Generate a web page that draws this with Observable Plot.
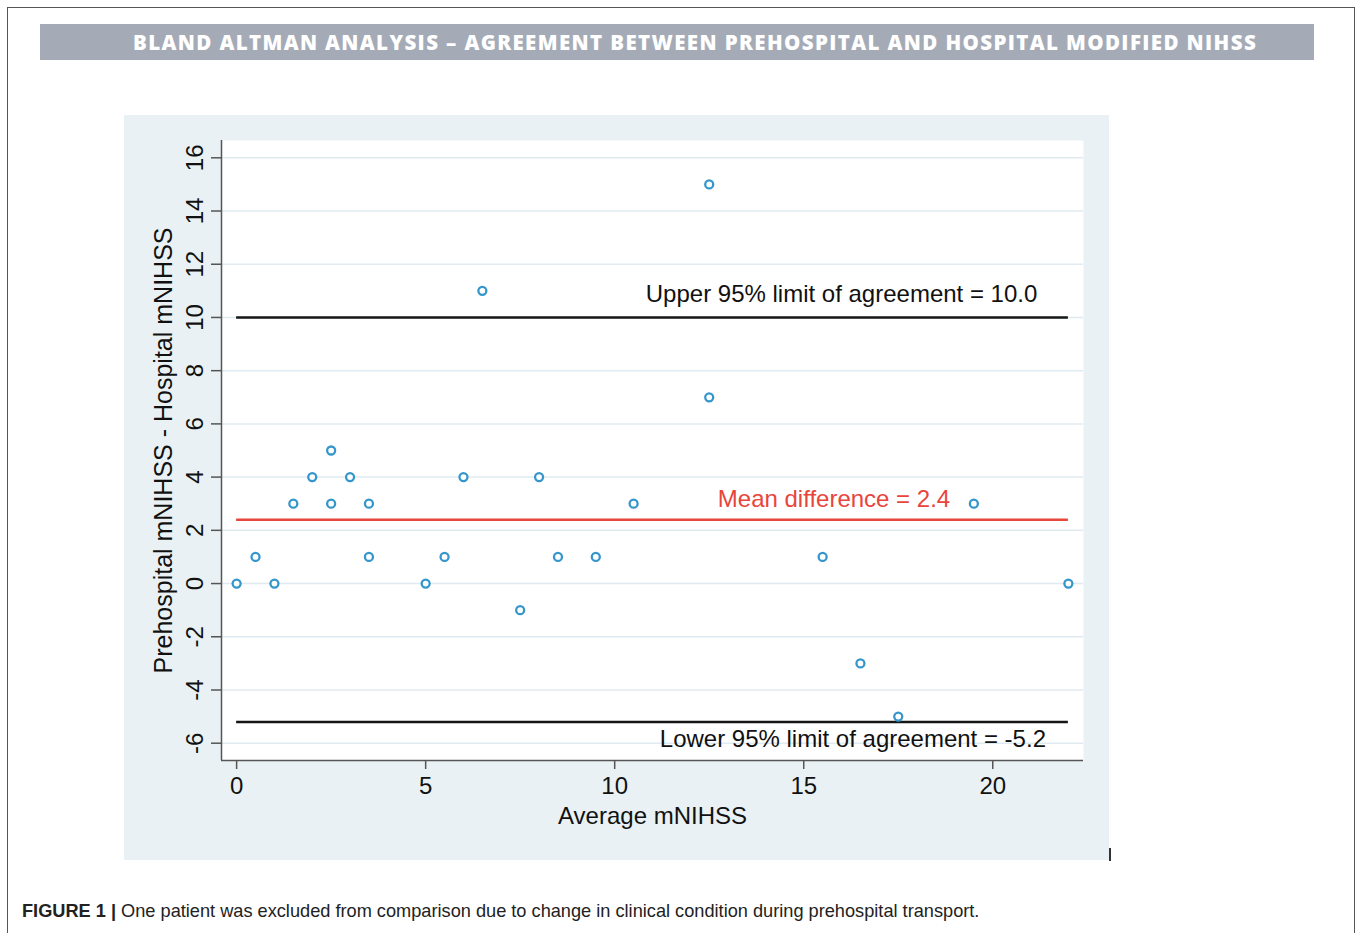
<!DOCTYPE html>
<html>
<head>
<meta charset="utf-8">
<script src="https://cdn.jsdelivr.net/npm/d3@7"></script>
<script src="https://cdn.jsdelivr.net/npm/@observablehq/plot@0.6"></script>
<style>
  html, body { margin: 0; padding: 0; background: #fff; }
  body { width: 1357px; height: 933px; position: relative; overflow: hidden; font-family: "Liberation Sans", Arial, sans-serif; }
  #border { position: absolute; left: 7px; top: 7px; width: 1348px; height: 1000px; border: 1px solid #555; box-sizing: border-box; }
  #banner { position: absolute; left: 40px; top: 24px; width: 1274px; height: 36px; background: #a4abb7; }
  #banner span { position: absolute; left: 93px; top: 0; line-height: 37px; color: #fff; font-family: "Open Sans", sans-serif; font-weight: 800; font-size: 20.5px; letter-spacing: 1.38px; white-space: nowrap; }
  #chart { position: absolute; left: 124px; top: 115px; }
  #caption { position: absolute; left: 22px; top: 901px; font-size: 18.2px; color: #222; white-space: nowrap; font-family: "Liberation Sans", Arial, sans-serif; }
  #caption b { font-weight: 700; }
  #tick { position: absolute; left: 1109px; top: 848px; width: 2px; height: 13px; background: #333; }
</style>
</head>
<body>
<div id="border"></div>
<div id="banner"><span>BLAND ALTMAN ANALYSIS – AGREEMENT BETWEEN PREHOSPITAL AND HOSPITAL MODIFIED NIHSS</span></div>
<div id="chart"></div>
<div id="tick"></div>
<div id="caption"><b>FIGURE 1 |</b> One patient was excluded from comparison due to change in clinical condition during prehospital transport.</div>
<script>
// Data
const averageScore = [0, 0.5, 1, 1.5, 2, 2.5, 2.5, 3, 3.5, 3.5, 5, 5.5, 6, 6.5, 7.5, 8, 8.5, 9.5, 10.5, 12.5, 12.5, 15.5, 16.5, 17.5, 19.5, 22];
const difference   = [0, 1, 0, 3, 4, 5, 3, 4, 3, 1, 0, 1, 4, 11, -1, 4, 1, 1, 3, 15, 7, 1, -3, -5, 3, 0];
const meanDiff = 2.4;
const upperLoA = 10.0;
const lowerLoA = -5.2;
const xTicks = [0, 5, 10, 15, 20];
const yTicks = [-6, -4, -2, 0, 2, 4, 6, 8, 10, 12, 14, 16];
const xDomain = [-0.4, 22.4];
const yDomain = [-6.65, 16.65];
const lineRange = [0, 22];

const points = averageScore.map((x, i) => ({x, y: difference[i]}));
const fmt = d => String(d);

const chart = Plot.plot({
  width: 985,
  height: 745,
  marginLeft: 97,
  marginRight: 26,
  marginTop: 25,
  marginBottom: 100,
  style: {background: "#e9f1f4", fontFamily: "'Liberation Sans', Arial, sans-serif", color: "#111"},
  x: {domain: xDomain},
  y: {domain: yDomain},
  marks: [
    Plot.frame({fill: "white", stroke: "none"}),
    Plot.gridY(yTicks, {stroke: "#e0ebf1", strokeOpacity: 1, strokeWidth: 1.5}),
    Plot.ruleX([xDomain[0]], {stroke: "#555", strokeWidth: 1.5}),
    Plot.ruleY([yDomain[0]], {stroke: "#555", strokeWidth: 1.5}),
    Plot.axisY({ticks: yTicks, tickFormat: fmt, tickSize: 10, tickPadding: 9, tickRotate: -90, fontSize: 24, label: null, stroke: "#555", strokeWidth: 1.5}),
    Plot.axisX({ticks: xTicks, tickFormat: fmt, tickSize: 9, tickPadding: 7, fontSize: 24, label: null, stroke: "#555", strokeWidth: 1.5}),
    Plot.text(["Prehospital mNIHSS - Hospital mNIHSS"], {frameAnchor: "left", dx: -58, rotate: -90, textAnchor: "middle", lineAnchor: "middle", fontSize: 25}),
    Plot.text(["Average mNIHSS"], {frameAnchor: "bottom", dy: 56, textAnchor: "middle", lineAnchor: "middle", fontSize: 24}),
    Plot.ruleY([upperLoA], {x1: lineRange[0], x2: lineRange[1], stroke: "#151515", strokeWidth: 2.5}),
    Plot.ruleY([lowerLoA], {x1: lineRange[0], x2: lineRange[1], stroke: "#151515", strokeWidth: 2.5}),
    Plot.ruleY([meanDiff], {x1: lineRange[0], x2: lineRange[1], stroke: "#e8453c", strokeWidth: 2.5}),
    Plot.dot(points, {x: "x", y: "y", r: 4, stroke: "#3596cb", strokeWidth: 2.3, fill: "white"}),
    Plot.text([upperLoA], {x: 16.0, y: d => d, text: d => `Upper 95% limit of agreement = ${d.toFixed(1)}`, dy: -23, fontSize: 24, fill: "#111"}),
    Plot.text([meanDiff], {x: 15.8, y: d => d, text: d => `Mean difference = ${d.toFixed(1)}`, dy: -20, fontSize: 24, fill: "#e8453c"}),
    Plot.text([lowerLoA], {x: 16.3, y: d => d, text: d => `Lower 95% limit of agreement = ${d.toFixed(1)}`, dy: 17, fontSize: 24, fill: "#111"})
  ]
});
document.getElementById("chart").appendChild(chart);
</script>
</body>
</html>
